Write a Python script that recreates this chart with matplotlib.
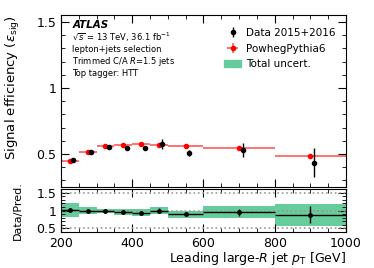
import numpy as np
import matplotlib.pyplot as plt
from matplotlib.ticker import MultipleLocator
from matplotlib.patches import Patch

bin_edges = [200, 250, 300, 350, 400, 450, 500, 600, 800, 1000]
mc_eff = [0.444, 0.518, 0.558, 0.566, 0.573, 0.571, 0.558, 0.548, 0.485]
data_eff = [0.454, 0.518, 0.551, 0.546, 0.546, 0.576, 0.508, 0.530, 0.434]
data_err = [0.010, 0.010, 0.012, 0.014, 0.018, 0.040, 0.022, 0.054, 0.110]
ratio = [1.02, 0.99, 0.98, 0.96, 0.94, 1.00, 0.89, 0.95, 0.88]
ratio_err = [0.025, 0.02, 0.025, 0.03, 0.035, 0.07, 0.045, 0.10, 0.24]
band_err = [0.20, 0.10, 0.06, 0.08, 0.10, 0.11, 0.10, 0.17, 0.30]

edges = np.array(bin_edges)
centers = 0.5 * (edges[:-1] + edges[1:])
halfw = 0.5 * (edges[1:] - edges[:-1])
green = '#66cc99'

fig = plt.figure(figsize=(3.74, 2.68), dpi=100)
ax = fig.add_axes([0.163, 0.302, 0.762, 0.642])
rax = fig.add_axes([0.163, 0.134, 0.762, 0.161])

# top panel
mc = ax.errorbar(centers, mc_eff, xerr=halfw, yerr=0.003, fmt='o', color='red',
                 ms=3, elinewidth=1.2, ecolor='#ff5a5a', capsize=0)
dat = ax.errorbar(centers + 10, data_eff, yerr=data_err, fmt='o', color='black',
                  ms=3, elinewidth=1, capsize=0)
ax.set_xlim(200, 1000)
ax.set_ylim(0.25, 1.553)
ax.set_xticklabels([])
ax.set_ylabel(r'Signal efficiency ($\epsilon_{\rm sig}$)', fontsize=9.5, loc='top')
ax.yaxis.set_minor_locator(MultipleLocator(0.1))
ax.set_yticks([0.5, 1, 1.5])
ax.set_yticklabels(['0.5', '1', '1.5'])

ax.text(0.04, 0.942, 'ATLAS', transform=ax.transAxes, fontsize=7.5,
        fontweight='bold', style='italic', va='center')
info = [r'$\sqrt{s}$ = 13 TeV, 36.1 fb$^{-1}$', 'lepton+jets selection',
        r'Trimmed C/A $R$=1.5 jets', 'Top tagger: HTT']
info_y = [0.872, 0.800, 0.731, 0.662]
for t, y in zip(info, info_y):
    ax.text(0.04, y, t, transform=ax.transAxes, fontsize=6, va='center')

ax.legend([dat, mc, Patch(color=green)],
          ['Data 2015+2016', 'PowhegPythia6', 'Total uncert.'],
          loc='upper left', bbox_to_anchor=(0.54, 0.98), frameon=False,
          fontsize=7.5, handlelength=1.6, handletextpad=0.5, labelspacing=0.55)

# ratio panel
for y in [0.5, 1.0, 1.5]:
    rax.axhline(y, color='#999999', ls=':', lw=1.2)
rax.bar(centers, 2 * np.array(band_err), bottom=np.array(ratio) - band_err,
        width=2 * halfw, color=green, edgecolor='none')
rax.errorbar(centers, ratio, xerr=halfw, yerr=ratio_err, fmt='o',
             color='black', ms=2.5, elinewidth=1, capsize=0)
rax.set_xlim(200, 1000)
rax.set_ylim(0.4, 1.6)
rax.set_yticks([0.5, 1, 1.5])
rax.set_yticklabels(['0.5', '1', '1.5'])
rax.yaxis.set_minor_locator(MultipleLocator(0.1))
rax.set_ylabel('Data/Pred.', fontsize=8)
rax.set_xlabel(r'Leading large-$R$ jet $p_{\rm T}$ [GeV]', fontsize=9,
               loc='right', labelpad=0)
rax.xaxis.set_major_locator(MultipleLocator(200))

for a in (ax, rax):
    a.xaxis.set_minor_locator(MultipleLocator(50))
    a.tick_params(which='both', direction='in', top=True, right=True,
                  labelsize=9)
    a.tick_params(which='major', length=6)
    a.tick_params(which='minor', length=3)

ax.yaxis.set_label_coords(-0.135, 1.0)
rax.yaxis.set_label_coords(-0.135, 0.5)

fig.savefig('out.png', dpi=100)
